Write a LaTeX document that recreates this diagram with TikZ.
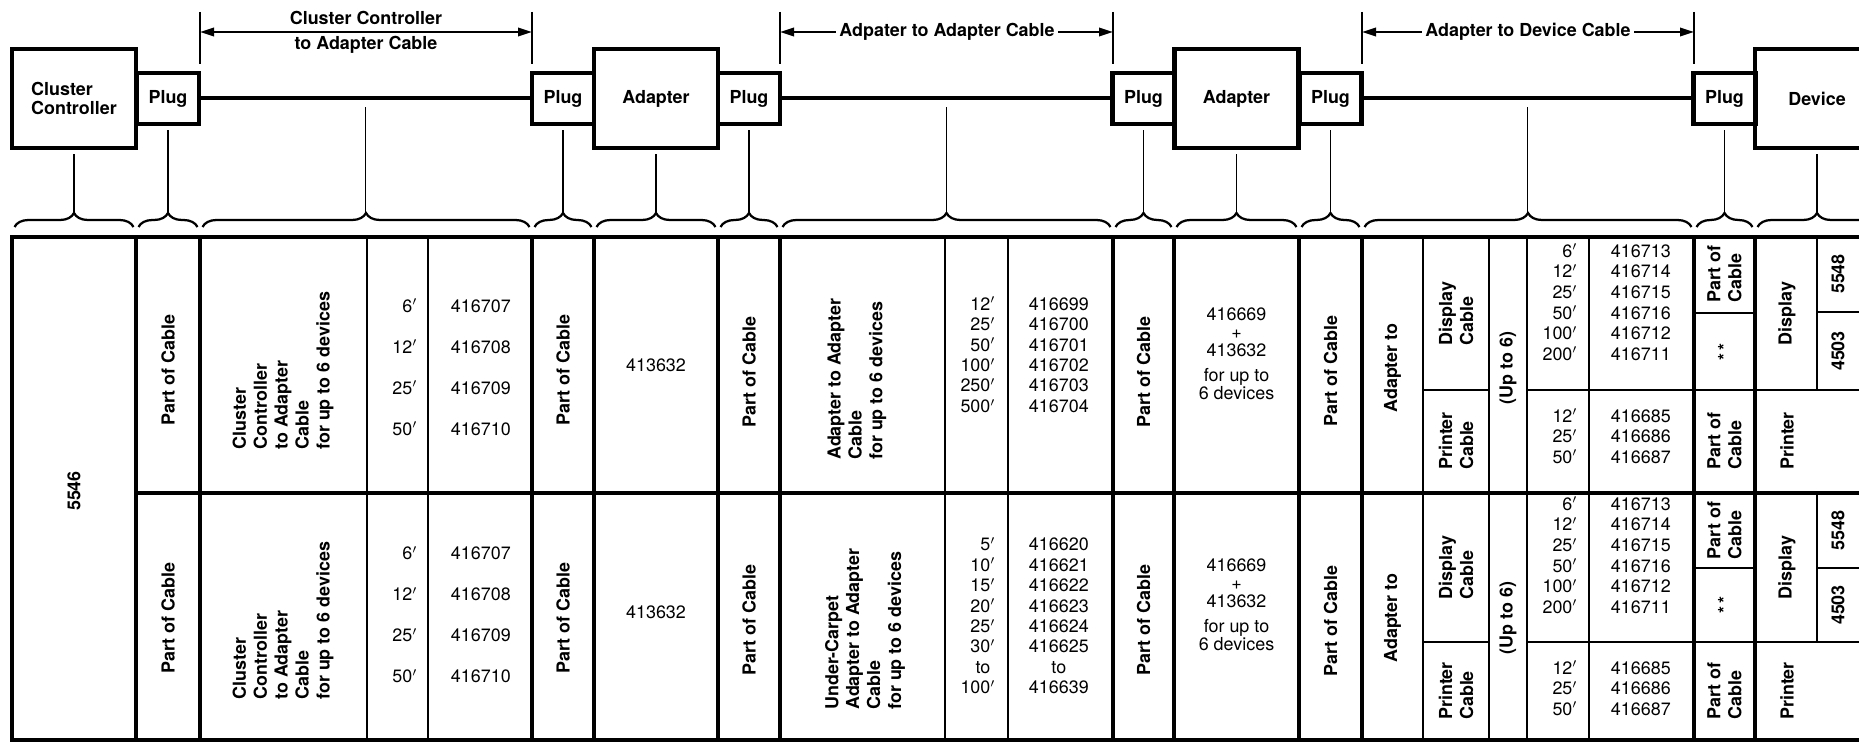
\documentclass[tikz,border=0pt]{standalone}
\usepackage{fontspec}
\setmainfont{TeX Gyre Heros}
\usetikzlibrary{matrix,arrows.meta,decorations.pathreplacing}

\begin{document}
\begin{tikzpicture}[x=0.02cm, y=-0.02cm,
    box/.style={draw, line width=0.09cm, minimum width=2.48cm, minimum height=1.98cm,
                inner sep=0pt, align=left, font=\fontsize{10.2}{10.6}\selectfont\bfseries},
    plug/.style={box, minimum width=1.24cm, minimum height=1.02cm},
    cable/.style={line width=0.08cm},
    leader/.style={line width=0.03cm},
    dim/.style={line width=0.04cm, >={Triangle[length=0.28cm, width=0.17cm]}},
    brc/.style={line width=0.045cm, decorate, decoration={brace, amplitude=0.28cm}},
    heavy/.style={line width=0.085cm},
    light/.style={line width=0.03cm},
    lbl/.style={inner sep=0pt, font=\fontsize{10.2}{11.9}\selectfont\bfseries},
    vlbl/.style={lbl, rotate=90, align=left},
    num/.style={inner sep=0pt, font=\fontsize{10.2}{10.2}\selectfont, align=center},
    lenlist/.style={matrix of nodes, ampersand replacement=\&, anchor=west,
                    inner sep=0pt, column sep=0.22cm,
                    nodes={inner sep=0pt, font=\fontsize{10.2}{10.2}\selectfont,
                           text height=0.25cm, text depth=0pt},
                    column 1/.style={nodes={text width=1.0cm, align=right}},
                    column 2/.style={nodes={text width=2.1cm, align=center}}}
  ]
  \path[use as bounding box, fill=white] (0,0) rectangle (1859,743);
  \clip (0,0) rectangle (1859,743);

  % units and plugs along the line
  \node[box]  (cc)    at (74,98.5)     {Cluster\\Controller};
  \node[plug] (plugA) at (168,98.5)    {Plug};
  \node[plug] (plugB) at (563,98.5)    {Plug};
  \node[box]  (adapA) at (656,98.5)    {Adapter};
  \node[plug] (plugC) at (749,98.5)    {Plug};
  \node[plug] (plugD) at (1143.5,98.5) {Plug};
  \node[box]  (adapB) at (1236.5,98.5) {Adapter};
  \node[plug] (plugE) at (1330.5,98.5) {Plug};
  \node[plug] (plugF) at (1724.5,98.5) {Plug};
  \node[box]  (dev)   at (1817,98.5)   {Device};

  \draw[cable] (plugA.east) -- coordinate (cabA) (plugB.west);
  \draw[cable] (plugC.east) -- coordinate (cabB) (plugD.west);
  \draw[cable] (plugE.east) -- coordinate (cabC) (plugF.west);

  % cable length marks
  \foreach \x/\n in {200/tkA,532/tkB,780/tkC,1113/tkD,1362/tkE,1694/tkF} {
    \coordinate (\n) at (\x,32);
    \draw[leader] (\x,12) -- (\x,64);
  }
  \node[lbl] (ccTop)  at (366,18) {Cluster Controller};
  \node[lbl] (ccBot)  at (366,45) {to Adapter Cable};
  \draw[dim, <->] (tkA) -- (tkB);
  \node[lbl, inner xsep=2pt] (aaLbl) at (947,32)  {Adpater to Adapter Cable};
  \draw[dim, ->] (aaLbl.west) -- (tkC);
  \draw[dim, ->] (aaLbl.east) -- (tkD);
  \node[lbl, inner xsep=2pt] (adLbl) at (1528,32) {Adapter to Device Cable};
  \draw[dim, ->] (adLbl.west) -- (tkE);
  \draw[dim, ->] (adLbl.east) -- (tkF);

  % braces and leaders
  \coordinate (tipline) at (0,213);
  \foreach \a/\b in {12/136,136/200,200/532,532/594,594/718,718/780,780/1113,
                     1113/1174,1174/1299,1299/1362,1362/1694,1694/1755,1755/1879}
    \draw[brc] (\a+2.5,227) -- (\b-2.5,227);
  \foreach \n in {cc,plugA,plugB,adapA,plugC,plugD,adapB,plugE,plugF,dev}
    \draw[leader] (\n.south) ++(0,4) -- (\n.south |- tipline);
  \foreach \n in {cabA,cabB,cabC}
    \draw[leader] (\n) ++(0,9) -- (\n |- tipline);

  % table rules
  \foreach \x in {12,136,200,532,594,718,780,1113,1174,1299,1362,1694,1755}
    \draw[heavy] (\x,237) -- (\x,740);
  \foreach \x in {367,428,945,1008,1423,1489,1527,1589}
    \draw[light] (\x,237) -- (\x,740);
  \draw[heavy] (10,237) -- (1870,237) (136,493) -- (1870,493) (10,740) -- (1870,740);
  \draw[light] (1817,237) -- (1817,390) (1817,493) -- (1817,642);
  \draw[light] (1423,390) -- (1489,390) (1527,390) -- (1870,390)
               (1694,313) -- (1755,313) (1817,312) -- (1870,312);
  \draw[light] (1423,642) -- (1489,642) (1527,642) -- (1870,642)
               (1694,568) -- (1755,568) (1817,568) -- (1870,568);

  % first column
  \node[vlbl] (idCC) at (74,491) {5546};

  % row 1
  \node[vlbl] (pcA1) at (168,370) {Part of Cable};
  \node[vlbl, anchor=west] (descA1) at (283,450)
    {Cluster\\Controller\\to Adapter\\Cable\\for up to 6 devices};
  \matrix (lenA1) [lenlist, row sep={0.82cm,between origins}] at (367,367.5) {
    6$'$  \& 416707 \\
    12$'$ \& 416708 \\
    25$'$ \& 416709 \\
    50$'$ \& 416710 \\
  };
  \node[vlbl] (pcB1) at (563,370) {Part of Cable};
  \node[num]  (adpA1) at (656,365) {413632};
  \node[vlbl] (pcC1) at (749,372) {Part of Cable};
  \node[vlbl, anchor=west] (descB1) at (857,460)
    {Adapter to Adapter\\Cable\\for up to 6 devices};
  \matrix (lenB1) [lenlist, row sep={0.41cm,between origins}] at (945,355) {
    12$'$  \& 416699 \\
    25$'$  \& 416700 \\
    50$'$  \& 416701 \\
    100$'$ \& 416702 \\
    250$'$ \& 416703 \\
    500$'$ \& 416704 \\
  };
  \node[vlbl] (pcD1) at (1143.5,372) {Part of Cable};
  \node[num]  (kitA1) at (1236.5,353.5) {416669\\+\\413632\\[0.14cm]for up to\\6 devices};
  \node[vlbl] (pcE1) at (1330.5,371) {Part of Cable};
  \node[vlbl] (toA1) at (1392.5,368) {Adapter to};
  \node[vlbl] (dcA1) at (1456,313.5) {Display\\Cable};
  \node[vlbl] (prA1) at (1456,441) {Printer\\Cable};
  \node[vlbl] (upA1) at (1508,368) {(Up to 6)};
  \matrix (lenC1) [lenlist, row sep={0.412cm,between origins}] at (1527,302.5) {
    6$'$   \& 416713 \\
    12$'$  \& 416714 \\
    25$'$  \& 416715 \\
    50$'$  \& 416716 \\
    100$'$ \& 416712 \\
    200$'$ \& 416711 \\
  };
  \matrix (lenD1) [lenlist, row sep={0.412cm,between origins}] at (1527,436.5) {
    12$'$ \& 416685 \\
    25$'$ \& 416686 \\
    50$'$ \& 416687 \\
  };
  \node[vlbl] (poA1) at (1724.5,274) {Part of\\Cable};
  \node[vlbl] (stA1) at (1724.5,352) {*\,*};
  \node[vlbl] (poB1) at (1724.5,441) {Part of\\Cable};
  \node[vlbl] (dsA1) at (1787,313.5) {Display};
  \node[vlbl] (ptA1) at (1787,441) {Printer};
  \node[vlbl] (mdA1) at (1838,274) {5548};
  \node[vlbl] (mdB1) at (1838,351) {4503};

  % row 2
  \node[vlbl] (pcA2) at (168,618) {Part of Cable};
  \node[vlbl, anchor=west] (descA2) at (283,700)
    {Cluster\\Controller\\to Adapter\\Cable\\for up to 6 devices};
  \matrix (lenA2) [lenlist, row sep={0.82cm,between origins}] at (367,615) {
    6$'$  \& 416707 \\
    12$'$ \& 416708 \\
    25$'$ \& 416709 \\
    50$'$ \& 416710 \\
  };
  \node[vlbl] (pcB2) at (563,618) {Part of Cable};
  \node[num]  (adpA2) at (656,612) {413632};
  \node[vlbl] (pcC2) at (749,620) {Part of Cable};
  \node[vlbl, anchor=west] (descB2) at (865,710)
    {Under-Carpet\\Adapter to Adapter\\Cable\\for up to 6 devices};
  \matrix (lenB2) [lenlist, row sep={0.41cm,between origins}] at (945,616) {
    5$'$   \& 416620 \\
    10$'$  \& 416621 \\
    15$'$  \& 416622 \\
    20$'$  \& 416623 \\
    25$'$  \& 416624 \\
    30$'$  \& 416625 \\
    to\phantom{$'$} \& to \\
    100$'$ \& 416639 \\
  };
  \node[vlbl] (pcD2) at (1143.5,620) {Part of Cable};
  \node[num]  (kitA2) at (1236.5,605) {416669\\+\\413632\\[0.14cm]for up to\\6 devices};
  \node[vlbl] (pcE2) at (1330.5,621) {Part of Cable};
  \node[vlbl] (toA2) at (1392.5,618) {Adapter to};
  \node[vlbl] (dcA2) at (1456,567.5) {Display\\Cable};
  \node[vlbl] (prA2) at (1456,691) {Printer\\Cable};
  \node[vlbl] (upA2) at (1508,618) {(Up to 6)};
  \matrix (lenC2) [lenlist, row sep={0.412cm,between origins}] at (1527,555.5) {
    6$'$   \& 416713 \\
    12$'$  \& 416714 \\
    25$'$  \& 416715 \\
    50$'$  \& 416716 \\
    100$'$ \& 416712 \\
    200$'$ \& 416711 \\
  };
  \matrix (lenD2) [lenlist, row sep={0.412cm,between origins}] at (1527,688.5) {
    12$'$ \& 416685 \\
    25$'$ \& 416686 \\
    50$'$ \& 416687 \\
  };
  \node[vlbl] (poA2) at (1724.5,530.5) {Part of\\Cable};
  \node[vlbl] (stA2) at (1724.5,605) {*\,*};
  \node[vlbl] (poB2) at (1724.5,691) {Part of\\Cable};
  \node[vlbl] (dsA2) at (1787,567.5) {Display};
  \node[vlbl] (ptA2) at (1787,691) {Printer};
  \node[vlbl] (mdA2) at (1838,530.5) {5548};
  \node[vlbl] (mdB2) at (1838,605) {4503};
\end{tikzpicture}
\end{document}
